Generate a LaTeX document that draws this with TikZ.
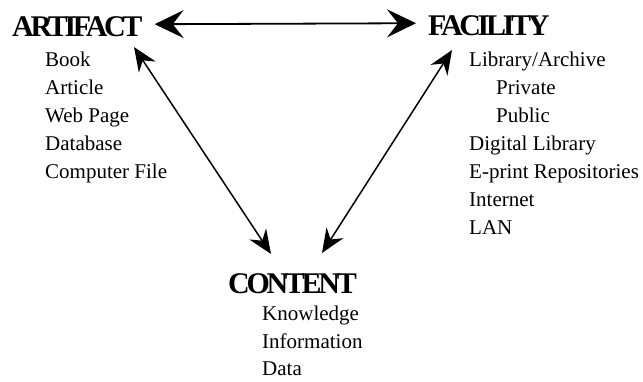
\documentclass[tikz,border=0pt]{standalone}
\usepackage{fontspec}
\setmainfont{Liberation Serif}
\newfontfamily\headfont[LetterSpace=-11]{Liberation Serif}
\usetikzlibrary{arrows.meta}

\begin{document}
\begin{tikzpicture}[x=1pt,y=-1pt,
	head/.style={font=\headfont\bfseries\fontsize{30}{30}\selectfont, anchor=base west, inner sep=12pt},
	item/.style={font=\fontsize{21}{21}\selectfont, anchor=base west, inner sep=0pt},
	bigarrow/.style={line width=1.8pt, {Stealth[length=29pt,width=28pt,inset=11pt]}-{Stealth[length=29pt,width=28pt,inset=11pt]}},
	slimarrow/.style={line width=1.5pt, {Stealth[length=24pt,width=20pt,inset=8pt]}-{Stealth[length=24pt,width=20pt,inset=8pt]}}]
	\useasboundingbox (0,0) rectangle (643,381);
	%the three headings
	\node[head] (artifact) at (0,36) {ARTIFACT};
	\node[head] (facility) at (416,35) {FACILITY};
	\node[head] (content) at (216,293) {CONTENT};
	%% lists under each heading
	\foreach \txt [count=\i] in {Book,Article,Web Page,Database,Computer File}{
		\node[item] (art\i) at (45,{38+28*\i}) {\txt};
		}
	\foreach \dx/\txt [count=\i] in {0/Library\slash Archive,27/Private,27/Public,0/Digital Library,0/E-print Repositories,0/Internet,0/LAN}{
		\node[item] (fac\i) at ({469+\dx},{38+28*\i}) {\txt};
		}
	\foreach \txt [count=\i] in {Knowledge,Information,Data}{
		\node[item] (con\i) at (262,{293+27.5*\i}) {\txt};
		}
	%% arrow ends near the headings
	\coordinate (artLow) at (134,47);\coordinate (conLeft) at (271,254);
	\coordinate (facLow) at (452,50);\coordinate (conRight) at (322,253);
	\draw[bigarrow] ([yshift=2pt]artifact.east) -- ([yshift=2pt]facility.west);
	\draw[slimarrow] (artLow) -- (conLeft);
	\draw[slimarrow] (facLow) -- (conRight);
\end{tikzpicture}
\end{document}
